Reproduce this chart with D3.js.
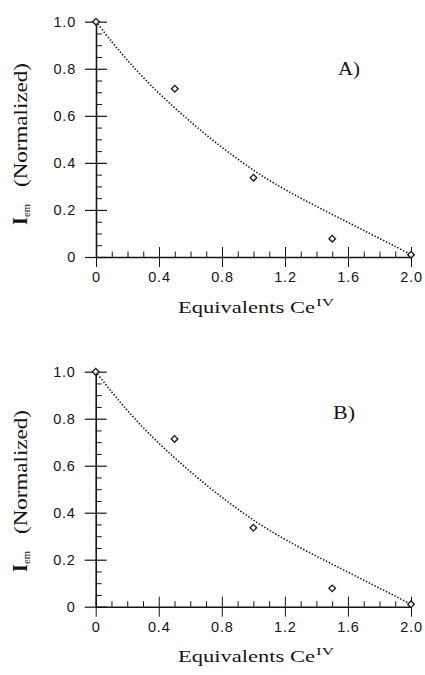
<!DOCTYPE html>
<html>
<head>
<meta charset="utf-8">
<script src="https://cdnjs.cloudflare.com/ajax/libs/d3/7.8.5/d3.min.js"></script>
<style>
body{margin:0;background:#fff}
svg{display:block}
.serif{font-family:"Liberation Serif","Times New Roman",serif;fill:#151515}
</style>
</head>
<body>
<div id="chart"></div>
<script>
var equivalents = [0, 0.5, 1.0, 1.5, 2.0]
var emissionA = [1.0, 0.715, 0.337, 0.078, 0.01]
var emissionB = [1.0, 0.714, 0.336, 0.078, 0.01]

var fitX = [0, 0.1, 0.2, 0.3, 0.4, 0.5, 0.6, 0.7, 0.8, 0.9, 1.0, 1.1, 1.2, 1.3, 1.4, 1.5, 1.6, 1.7, 1.8, 1.9, 2.0]
var fitA = [1.0, 0.915, 0.836, 0.763, 0.696, 0.634, 0.575, 0.519, 0.466, 0.416, 0.369, 0.326, 0.287, 0.25, 0.215, 0.181, 0.147, 0.113, 0.079, 0.045, 0.01]
var fitB = [1.0, 0.915, 0.836, 0.763, 0.696, 0.634, 0.575, 0.519, 0.466, 0.416, 0.369, 0.326, 0.287, 0.25, 0.215, 0.181, 0.147, 0.113, 0.079, 0.045, 0.01]

var xTickValues = [0, 0.4, 0.8, 1.2, 1.6, 2.0]
var xTickLabels = ["0", "0.4", "0.8", "1.2", "1.6", "2.0"]
var yTickValues = [0, 0.2, 0.4, 0.6, 0.8, 1.0]
var yTickLabels = ["0", "0.2", "0.4", "0.6", "0.8", "1.0"]
var xMinorTicks = [0.1, 0.2, 0.3, 0.5, 0.6, 0.7, 0.9, 1.0, 1.1, 1.3, 1.4, 1.5, 1.7, 1.8, 1.9]
var yMinorTicks = [0.05, 0.1, 0.15, 0.25, 0.3, 0.35, 0.45, 0.5, 0.55, 0.65, 0.7, 0.75, 0.85, 0.9, 0.95]
var panelLabels = ["A)", "B)"]

var WIDTH = 425, HEIGHT = 675
var INK = "#151515"

var layout = [
	{left: 96, right: 411, top: 21.7, bottom: 257, labelX: 338, labelY: 75, titleY: 313, yTitle: 225},
	{left: 95.7, right: 411, top: 371.7, bottom: 606.7, labelX: 333, labelY: 419, titleY: 662, yTitle: 572}
]

var svg = d3.select("#chart").append("svg")
	.attr("width", WIDTH)
	.attr("height", HEIGHT)

function styleAxis(g, tickWidth){
	g.selectAll(".domain").attr("stroke", INK).attr("stroke-width", 1.6)
	g.selectAll(".tick line").attr("stroke", INK).attr("stroke-width", tickWidth)
	g.selectAll(".tick text")
		.attr("fill", INK)
		.style("font-family", "'Liberation Sans', Arial, sans-serif")
		.style("font-size", "14.5px")
		.style("letter-spacing", "0.8px")
}

function buildPanel(p, values, fit, label){
	var x = d3.scaleLinear().domain([0, 2]).range([p.left, p.right])
	var y = d3.scaleLinear().domain([0, 1]).range([p.bottom, p.top])

	var panel = svg.append("g").attr("class", "panel")

	// x axis: labelled ticks down, crossing ticks up, minor ticks up
	panel.append("g")
		.attr("transform", "translate(0," + p.bottom + ")")
		.call(d3.axisBottom(x).tickValues(xTickValues).tickFormat(function(d,i){ return xTickLabels[i] })
			.tickSizeInner(10).tickSizeOuter(0).tickPadding(5))
		.call(styleAxis, 1)

	panel.append("g")
		.attr("transform", "translate(0," + p.bottom + ")")
		.call(d3.axisTop(x).tickValues(xTickValues).tickFormat("").tickSize(10))
		.call(styleAxis, 1)
		.select(".domain").remove()

	panel.append("g")
		.attr("transform", "translate(0," + p.bottom + ")")
		.call(d3.axisTop(x).tickValues(xMinorTicks).tickFormat("").tickSize(5.5))
		.call(styleAxis, 1)
		.select(".domain").remove()

	// y axis
	panel.append("g")
		.attr("transform", "translate(" + p.left + ",0)")
		.call(d3.axisLeft(y).tickValues(yTickValues).tickFormat(function(d,i){ return yTickLabels[i] })
			.tickSizeInner(11).tickSizeOuter(0).tickPadding(9))
		.call(styleAxis, 1.2)

	panel.append("g")
		.attr("transform", "translate(" + p.left + ",0)")
		.call(d3.axisRight(y).tickValues(yTickValues).tickFormat("").tickSize(11))
		.call(styleAxis, 1.2)
		.select(".domain").remove()

	panel.append("g")
		.attr("transform", "translate(" + p.left + ",0)")
		.call(d3.axisRight(y).tickValues(yMinorTicks).tickFormat("").tickSize(6))
		.call(styleAxis, 1)
		.select(".domain").remove()

	var line = d3.line()
		.curve(d3.curveCatmullRom)
		.x(function(d,i){ return x(fitX[i]) })
		.y(function(d){ return y(d) })

	panel.append("path")
		.datum(fit)
		.attr("d", line)
		.attr("fill", "none")
		.attr("stroke", INK)
		.attr("stroke-width", 1.6)
		.attr("stroke-dasharray", "1.4,1.8")

	var marker = d3.symbol().type(d3.symbolSquare).size(22)

	panel.selectAll(".point")
		.data(values)
		.enter()
		.append("path")
		.attr("class", "point")
		.attr("d", marker)
		.attr("transform", function(d,i){
			return "translate(" + x(equivalents[i]) + "," + y(d) + ") rotate(45)"
		})
		.attr("fill", "#fff")
		.attr("stroke", INK)
		.attr("stroke-width", 1.3)

	panel.append("text")
		.attr("class", "serif")
		.attr("x", p.labelX)
		.attr("y", p.labelY)
		.attr("textLength", 22)
		.attr("lengthAdjust", "spacingAndGlyphs")
		.style("font-size", "19px")
		.text(label)

	panel.append("text")
		.attr("class", "serif")
		.attr("x", 178)
		.attr("y", p.titleY)
		.attr("textLength", 137)
		.attr("lengthAdjust", "spacingAndGlyphs")
		.style("font-size", "17.5px")
		.text("Equivalents Ce")

	panel.append("text")
		.attr("class", "serif")
		.attr("x", 316)
		.attr("y", p.titleY - 7)
		.attr("textLength", 18)
		.attr("lengthAdjust", "spacingAndGlyphs")
		.style("font-size", "11px")
		.text("IV")

	var yTitle = panel.append("g")
		.attr("transform", "translate(27," + p.yTitle + ") rotate(-90)")

	yTitle.append("text")
		.attr("class", "serif")
		.attr("x", 0)
		.attr("y", 0)
		.style("font-size", "20px")
		.style("font-weight", "bold")
		.text("I")

	yTitle.append("text")
		.attr("class", "serif")
		.attr("x", 8)
		.attr("y", 3)
		.attr("textLength", 13)
		.attr("lengthAdjust", "spacingAndGlyphs")
		.style("font-size", "10px")
		.text("em")

	yTitle.append("text")
		.attr("class", "serif")
		.attr("x", 38)
		.attr("y", 0)
		.attr("textLength", 124)
		.attr("lengthAdjust", "spacingAndGlyphs")
		.style("font-size", "18.5px")
		.text("(Normalized)")
}

buildPanel(layout[0], emissionA, fitA, panelLabels[0])
buildPanel(layout[1], emissionB, fitB, panelLabels[1])
</script>
</body>
</html>
